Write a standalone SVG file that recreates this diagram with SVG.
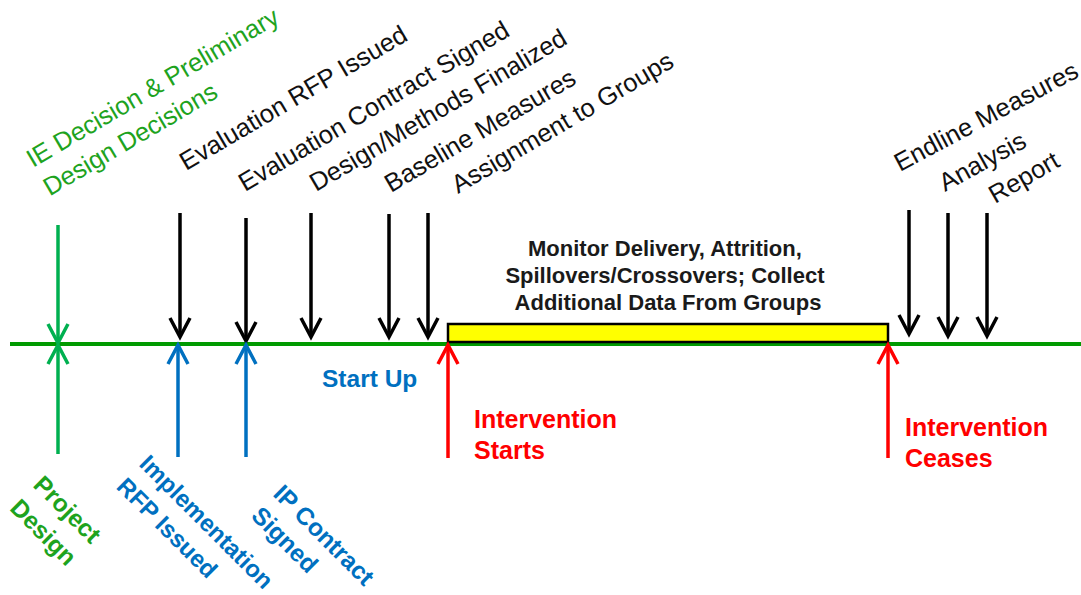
<svg xmlns="http://www.w3.org/2000/svg" width="1081" height="595" viewBox="0 0 1081 595">
<style>
  .lbl { font-family: "Liberation Sans", Arial, sans-serif; font-size: 25.5px; fill: #111; }
  .lblg { font-family: "Liberation Sans", Arial, sans-serif; font-size: 25.5px; fill: #1ea31e; }
  .bold { font-family: "Liberation Sans", Arial, sans-serif; font-weight: bold; }
  .blk { stroke: #000; stroke-width: 3.5; fill: none; }
  .grn { stroke: #00b050; stroke-width: 3.5; fill: none; }
  .blu { stroke: #0070c0; stroke-width: 3.5; fill: none; }
  .red { stroke: #ff0000; stroke-width: 3.5; fill: none; }
</style>
<defs>
  <marker id="hk" markerUnits="userSpaceOnUse" viewBox="-22 -12 26 24" markerWidth="26" markerHeight="24" refX="0" refY="0" orient="auto" overflow="visible">
    <path d="M-19,-10 L0,0 L-19,10" fill="none" stroke="#000" stroke-width="3.5"/>
  </marker>
  <marker id="hg" markerUnits="userSpaceOnUse" viewBox="-22 -12 26 24" markerWidth="26" markerHeight="24" refX="0" refY="0" orient="auto" overflow="visible">
    <path d="M-19,-10 L0,0 L-19,10" fill="none" stroke="#00b050" stroke-width="3.5"/>
  </marker>
  <marker id="hb" markerUnits="userSpaceOnUse" viewBox="-22 -12 26 24" markerWidth="26" markerHeight="24" refX="0" refY="0" orient="auto" overflow="visible">
    <path d="M-19,-10 L0,0 L-19,10" fill="none" stroke="#0070c0" stroke-width="3.5"/>
  </marker>
  <marker id="hr" markerUnits="userSpaceOnUse" viewBox="-22 -12 26 24" markerWidth="26" markerHeight="24" refX="0" refY="0" orient="auto" overflow="visible">
    <path d="M-19,-10 L0,0 L-19,10" fill="none" stroke="#ff0000" stroke-width="3.5"/>
  </marker>
</defs>
<rect width="1081" height="595" fill="#fff"/>

<g id="timeline">
  <line x1="10" y1="344" x2="1081" y2="344" stroke="#009a00" stroke-width="4"/>
</g>

<g id="intervention-bar">
  <rect x="448" y="324" width="440" height="18" fill="#ffff00" stroke="#000" stroke-width="2.5"/>
  <text class="bold" font-size="22" fill="#1a1a1a" text-anchor="middle">
    <tspan x="668" y="256">Monitor Delivery, Attrition,</tspan>
    <tspan x="668" y="283">Spillovers/Crossovers; Collect</tspan>
    <tspan x="668" y="310">Additional Data From Groups</tspan>
  </text>
</g>

<g id="connectors">
  <line class="grn" x1="58" y1="225" x2="58" y2="343" marker-end="url(#hg)"/>
  <line class="grn" x1="58" y1="454" x2="58" y2="345" marker-end="url(#hg)"/>
  <line class="blk" x1="180" y1="213" x2="180" y2="337" marker-end="url(#hk)"/>
  <line class="blk" x1="246" y1="218" x2="246" y2="341" marker-end="url(#hk)"/>
  <line class="blk" x1="311" y1="213" x2="311" y2="337" marker-end="url(#hk)"/>
  <line class="blk" x1="389" y1="214" x2="389" y2="337" marker-end="url(#hk)"/>
  <line class="blk" x1="428" y1="213" x2="428" y2="337" marker-end="url(#hk)"/>
  <line class="blk" x1="909" y1="210" x2="909" y2="334" marker-end="url(#hk)"/>
  <line class="blk" x1="948" y1="213" x2="948" y2="336" marker-end="url(#hk)"/>
  <line class="blk" x1="987" y1="213" x2="987" y2="336" marker-end="url(#hk)"/>
  <line class="blu" x1="178" y1="457" x2="178" y2="345" marker-end="url(#hb)"/>
  <line class="blu" x1="246" y1="457" x2="246" y2="345" marker-end="url(#hb)"/>
  <line class="red" x1="448" y1="458" x2="448" y2="345" marker-end="url(#hr)"/>
  <line class="red" x1="888" y1="458" x2="888" y2="345" marker-end="url(#hr)"/>
</g>

<g id="ie-decision">
  <text class="lblg" transform="translate(33,168) rotate(-30.5)"><tspan x="0" y="0">IE Decision &amp; Preliminary</tspan><tspan x="0" y="33">Design Decisions</tspan></text>
</g>
<g id="eval-rfp"><text class="lbl" transform="translate(186,171) rotate(-30.5)">Evaluation RFP Issued</text></g>
<g id="eval-contract"><text class="lbl" transform="translate(245,192) rotate(-30.5)">Evaluation Contract Signed</text></g>
<g id="design-methods"><text class="lbl" transform="translate(316,192) rotate(-30.5)">Design/Methods Finalized</text></g>
<g id="baseline"><text class="lbl" transform="translate(391,193) rotate(-30.5)">Baseline Measures</text></g>
<g id="assignment"><text class="lbl" transform="translate(458,194) rotate(-30.5)">Assignment to Groups</text></g>
<g id="endline"><text class="lbl" transform="translate(900,172) rotate(-28)">Endline Measures</text></g>
<g id="analysis"><text class="lbl" transform="translate(945,192) rotate(-29)">Analysis</text></g>
<g id="report"><text class="lbl" transform="translate(995,204) rotate(-30)">Report</text></g>

<g id="start-up"><text class="bold" font-size="24.5" fill="#0070c0" x="322" y="387">Start Up</text></g>

<g id="intervention-starts">
  <text class="bold" font-size="25" fill="#ff0000"><tspan x="474" y="428">Intervention</tspan><tspan x="474" y="459">Starts</tspan></text>
</g>
<g id="intervention-ceases">
  <text class="bold" font-size="25" fill="#ff0000"><tspan x="905" y="436">Intervention</tspan><tspan x="905" y="467">Ceases</tspan></text>
</g>

<g id="project-design">
  <text class="bold" font-size="24.5" fill="#1ea31e" transform="translate(32,486) rotate(45)"><tspan x="0" y="0">Project</tspan><tspan x="0" y="33">Design</tspan></text>
</g>
<g id="impl-rfp">
  <text class="bold" font-size="24" fill="#0070c0" transform="translate(138,465) rotate(45)"><tspan x="0" y="0">Implementation</tspan><tspan x="0" y="32">RFP Issued</tspan></text>
</g>
<g id="ip-contract">
  <text class="bold" font-size="24.5" fill="#0070c0" transform="translate(272,495) rotate(45)"><tspan x="0" y="0">IP Contract</tspan><tspan x="0" y="31">Signed</tspan></text>
</g>
</svg>
